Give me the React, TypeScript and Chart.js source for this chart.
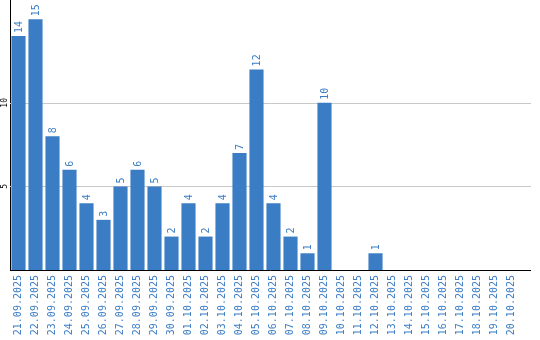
import React, { useEffect, useRef } from "react";
import { Chart, registerables } from "chart.js";

Chart.register(...registerables);

const categories = [
  "21.09.2025", "22.09.2025", "23.09.2025", "24.09.2025", "25.09.2025", "26.09.2025",
  "27.09.2025", "28.09.2025", "29.09.2025", "30.09.2025", "01.10.2025", "02.10.2025",
  "03.10.2025", "04.10.2025", "05.10.2025", "06.10.2025", "07.10.2025", "08.10.2025",
  "09.10.2025", "10.10.2025", "11.10.2025", "12.10.2025", "13.10.2025", "14.10.2025",
  "15.10.2025", "16.10.2025", "17.10.2025", "18.10.2025", "19.10.2025", "20.10.2025",
];
const values = [14, 15, 8, 6, 4, 3, 5, 6, 5, 2, 4, 2, 4, 7, 12, 4, 2, 1, 10, 0, 0, 1, 0, 0, 0, 0, 0, 0, 0, 0];
const yTickValues = [5, 10];
const yMax = 16.15;

const BLUE = "rgb(59,125,196)";
const MONO = "'DejaVu Sans Mono', monospace";
const AXIS_END = 531;

const gridPlugin = {
  id: "gridLines",
  beforeDatasetsDraw(chart: any) {
    const ctx = chart.ctx;
    const area = chart.chartArea;
    const ys = chart.scales.y;
    ctx.save();
    ctx.lineWidth = 1;
    ctx.strokeStyle = "#c8c8c8";
    yTickValues.forEach((v) => {
      const py = Math.round(ys.getPixelForValue(v)) + 0.5;
      ctx.beginPath();
      ctx.moveTo(area.left, py);
      ctx.lineTo(AXIS_END, py);
      ctx.stroke();
    });
    ctx.restore();
  },
  afterDatasetsDraw(chart: any) {
    const ctx = chart.ctx;
    const area = chart.chartArea;
    const ys = chart.scales.y;
    ctx.save();
    ctx.lineWidth = 1;
    ctx.strokeStyle = "#000";
    const by = Math.round(ys.getPixelForValue(0)) + 0.5;
    ctx.beginPath();
    ctx.moveTo(area.left, by);
    ctx.lineTo(AXIS_END, by);
    ctx.stroke();
    ctx.restore();
  },
};

const labelPlugin = {
  id: "customLabels",
  afterDatasetsDraw(chart: any) {
    const ctx = chart.ctx;
    const meta = chart.getDatasetMeta(0);
    ctx.save();
    ctx.fillStyle = BLUE;
    ctx.font = `10px ${MONO}`;
    ctx.textAlign = "left";
    ctx.textBaseline = "middle";
    meta.data.forEach((bar: any, i: number) => {
      const v = values[i];
      if (!v) return;
      ctx.save();
      ctx.translate(bar.x + 0.5, bar.y - 3);
      ctx.rotate(-Math.PI / 2);
      ctx.fillText(String(v), 0, 0);
      ctx.restore();
    });
    const ys = chart.scales.y;
    ctx.fillStyle = "#000";
    ctx.font = `8px ${MONO}`;
    ctx.textAlign = "center";
    yTickValues.forEach((v) => {
      const py = ys.getPixelForValue(v);
      ctx.save();
      ctx.translate(5, py);
      ctx.rotate(-Math.PI / 2);
      ctx.fillText(String(v), 0, 0);
      ctx.restore();
    });
    ctx.restore();
  },
};

export default function App() {
  const ref = useRef<HTMLCanvasElement | null>(null);
  useEffect(() => {
    if (!ref.current) return;
    const chart = new Chart(ref.current, {
      type: "bar",
      data: {
        labels: categories,
        datasets: [
          {
            data: values,
            backgroundColor: BLUE,
            borderWidth: 0,
            categoryPercentage: 1,
            barPercentage: 0.83,
          },
        ],
      },
      options: {
        animation: false,
        responsive: false,
        maintainAspectRatio: false,
        layout: { padding: { left: 0, right: 20, top: 0, bottom: 0 } },
        plugins: { legend: { display: false }, tooltip: { enabled: false } },
        scales: {
          x: {
            grid: { display: false, drawTicks: false },
            border: { display: false },
            ticks: {
              autoSkip: false,
              minRotation: 90,
              maxRotation: 90,
              padding: 5,
              color: BLUE,
              font: { family: MONO, size: 10 },
            },
            afterFit(scale: any) {
              scale.height = 70;
            },
          },
          y: {
            min: 0,
            max: yMax,
            grid: { display: false, drawTicks: false },
            border: { display: true, color: "#000", width: 1 },
            ticks: { display: false },
            afterBuildTicks(scale: any) {
              scale.ticks = yTickValues.map((v) => ({ value: v }));
            },
            afterFit(scale: any) {
              scale.width = 10;
            },
          },
        },
      },
      plugins: [gridPlugin, labelPlugin],
    });
    return () => chart.destroy();
  }, []);
  return (
    <div style={{ position: "fixed", left: 0, top: 0, width: 540, height: 340 }}>
      <canvas ref={ref} width={540} height={340} style={{ width: 540, height: 340 }} />
    </div>
  );
}
